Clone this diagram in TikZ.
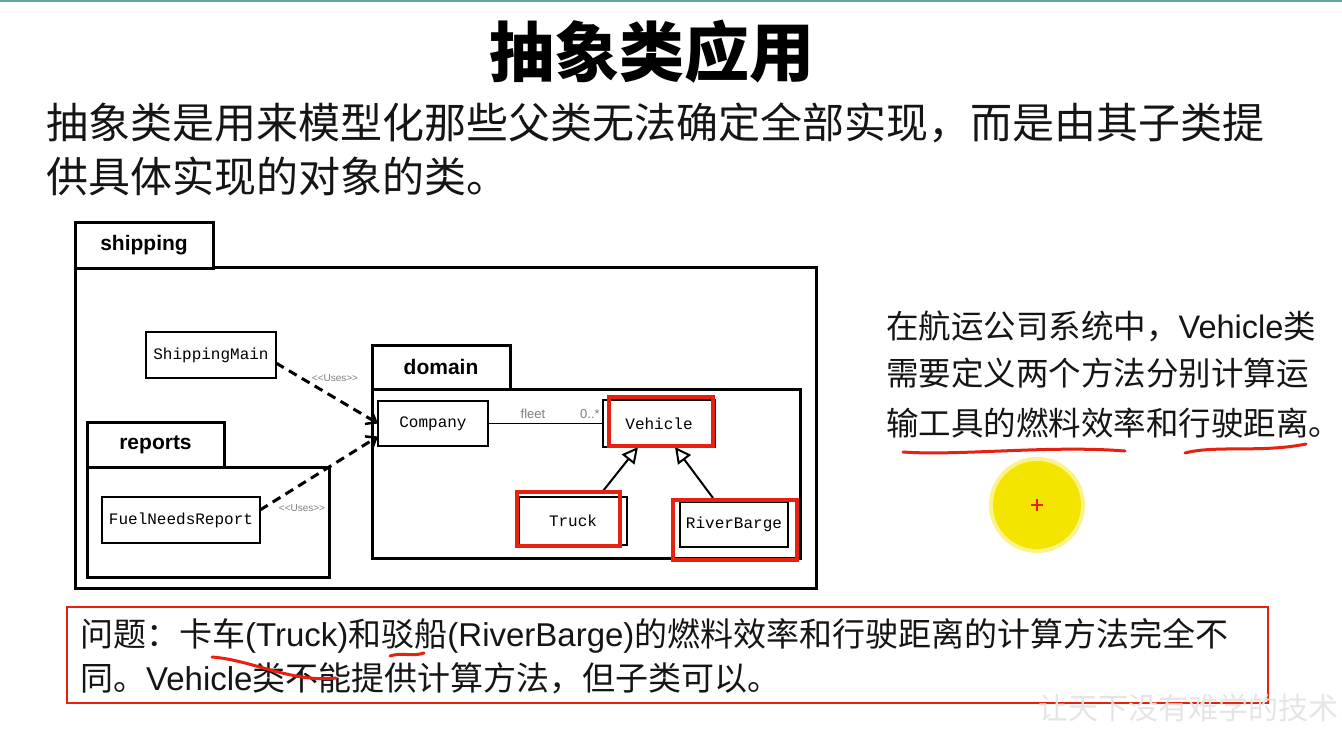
\documentclass[tikz,border=0pt]{standalone}
\usepackage{fontspec}
\setmainfont{Liberation Sans}
\newfontfamily\cjk{Noto Sans CJK SC}
\newfontfamily\monofont{Liberation Mono}
\usetikzlibrary{arrows.meta}
\definecolor{hlred}{HTML}{E8200F}
\definecolor{teal1}{HTML}{5FA89E}
\definecolor{ink}{HTML}{151515}
\definecolor{hiyellow}{HTML}{F4E500}
\tikzset{
 pkg/.style={draw, line width=3pt, outer sep=0pt, inner sep=0pt, fill=white, anchor=north west},
 pkgtab/.style={pkg, font=\bfseries\fontsize{21}{24}\selectfont},
 cls/.style={draw, line width=2.5pt, outer sep=0pt, inner sep=0pt, anchor=north west, fill=white, font=\monofont\fontsize{16}{18}\selectfont},
 hl/.style={draw=hlred, line width=4.5pt, outer sep=0pt, inner sep=0pt, anchor=north west},
 dep/.style={dash pattern=on 9pt off 6pt, line width=3pt, -{Straight Barb[length=9pt,width=14pt,line width=2.5pt]}},
 gen/.style={line width=2pt, -{Triangle[open, length=16pt, width=16pt, line width=2pt, fill=white]}},
 small/.style={font=\fontsize{10}{12}\selectfont, text=gray, inner sep=0pt},
 para/.style={anchor=west, inner sep=0pt, text=ink},
 scrib/.style={draw=hlred, line width=3pt, line cap=round},
}
\begin{document}
\begin{tikzpicture}[x=1pt,y=-1pt]
\useasboundingbox (0,0) rectangle (1342,729);
\fill[white] (0,0) rectangle (1342,729);
\draw[teal1, line width=2.5pt] (0,1.2) -- (1342,1.2);

% title and intro
\node[inner sep=0pt, font=\cjk\bfseries\fontsize{65}{68}\selectfont] (title) at (652,52) {抽象类应用};
\node[para, font=\cjk\fontsize{42}{44}\selectfont] (intro1) at (46,123) {抽象类是用来模型化那些父类无法确定全部实现，而是由其子类提};
\node[para, font=\cjk\fontsize{42}{44}\selectfont] (intro2) at (46,176) {供具体实现的对象的类。};

% packages
\node[pkg, minimum width=741pt, minimum height=321pt] (shipping) at (75,267) {};
\node[pkgtab, minimum width=138pt, minimum height=46pt] (shiptab) at (75,222) {shipping};
\node[pkg, minimum width=242pt, minimum height=110pt] (reports) at (87,467) {};
\node[pkgtab, minimum width=137pt, minimum height=45pt] (reptab) at (87,422) {reports};
\node[pkg, minimum width=428pt, minimum height=169pt] (domain) at (372,389) {};
\node[pkgtab, minimum width=138pt, minimum height=44pt] (domtab) at (372,345) {domain};

% classes
\node[cls, minimum width=130pt, minimum height=46pt] (main) at (146,332) {ShippingMain};
\node[cls, minimum width=158pt, minimum height=46pt] (fuel) at (102,497) {FuelNeedsReport};
\node[cls, minimum width=110pt, minimum height=45pt] (company) at (378,401) {Company};
\node[cls, minimum width=112pt, minimum height=47pt] (vehicle) at (603,400) {Vehicle};
\node[cls, minimum width=108pt, minimum height=48pt] (truck) at (519,497) {Truck};
\node[cls, minimum width=108pt, minimum height=45pt] (barge) at (680,502) {RiverBarge};

% connectors
\draw[dep] ([yshift=-8pt]main.east) -- (company.west);
\draw[dep] ([yshift=10pt]fuel.east) -- ([yshift=-13pt]company.west);
\node[small] (uses1) at (335,378) {{<}{<}Uses{>}{>}};
\node[small] (uses2) at (302,508) {{<}{<}Uses{>}{>}};
\draw[line width=1.8pt] (company.east) -- (vehicle.west);
\node[small, font=\fontsize{13}{14}\selectfont] (fleet) at (533,414) {fleet};
\node[small, font=\fontsize{13}{14}\selectfont] (mult) at (590,414) {0..*};
\draw[gen] ([xshift=30pt,yshift=6pt]truck.north) -- ([xshift=-21pt]vehicle.south);
\draw[gen] ([xshift=-21pt,yshift=4pt]barge.north) -- ([xshift=16pt]vehicle.south);

% red highlights
\node[hl, minimum width=104pt, minimum height=49pt] (vehred) at (609,397) {};
\node[hl, minimum width=103pt, minimum height=54pt] (truckred) at (517,492) {};
\node[hl, minimum width=124pt, minimum height=60pt] (bargered) at (673,500) {};

% right text
\node[para, font=\fontsize{32.5}{36}\selectfont] (r1) at (886,326) {{\cjk 在航运公司系统中，}Vehicle{\cjk 类}};
\node[para, font=\cjk\fontsize{32.5}{36}\selectfont] (r2) at (886,373) {需要定义两个方法分别计算运};
\node[para, font=\cjk\fontsize{32.5}{36}\selectfont] (r3) at (886,423) {输工具的燃料效率和行驶距离。};
\draw[scrib] (903,452) .. controls (960,456) and (1050,445) .. (1125,451);
\draw[scrib] (1185,453) .. controls (1215,445) and (1262,453) .. (1306,444);

% cursor highlight
\fill[hiyellow!45] (1037,505) circle (48pt);
\fill[hiyellow] (1037,505) circle (44pt);
\draw[hlred, line width=2.5pt] (1031,505) -- (1043,505) (1037,499) -- (1037,511);

% problem box
\node[draw=hlred, line width=1.8pt, outer sep=0pt, inner sep=0pt, anchor=north west, minimum width=1201pt, minimum height=96pt] (problem) at (67,607) {};
\node[para, font=\fontsize{33}{36}\selectfont] (p1) at (80,636) {{\cjk 问题：卡车}(Truck){\cjk 和驳船}(RiverBarge){\cjk 的燃料效率和行驶距离的计算方法完全不}};
\node[para, font=\fontsize{33}{36}\selectfont] (p2) at (80,678) {{\cjk 同。}Vehicle{\cjk 类不能提供计算方法，但子类可以。}};
\draw[scrib] (212,657) .. controls (252,660) and (292,683) .. (336,678);
\draw[scrib] (390,656) .. controls (402,652) and (412,657) .. (424,653);

% watermark
\node[anchor=west, inner sep=0pt, text=gray!20, font=\cjk\fontsize{30}{32}\selectfont] (wm) at (1038,708) {让天下没有难学的技术};
\end{tikzpicture}
\end{document}
